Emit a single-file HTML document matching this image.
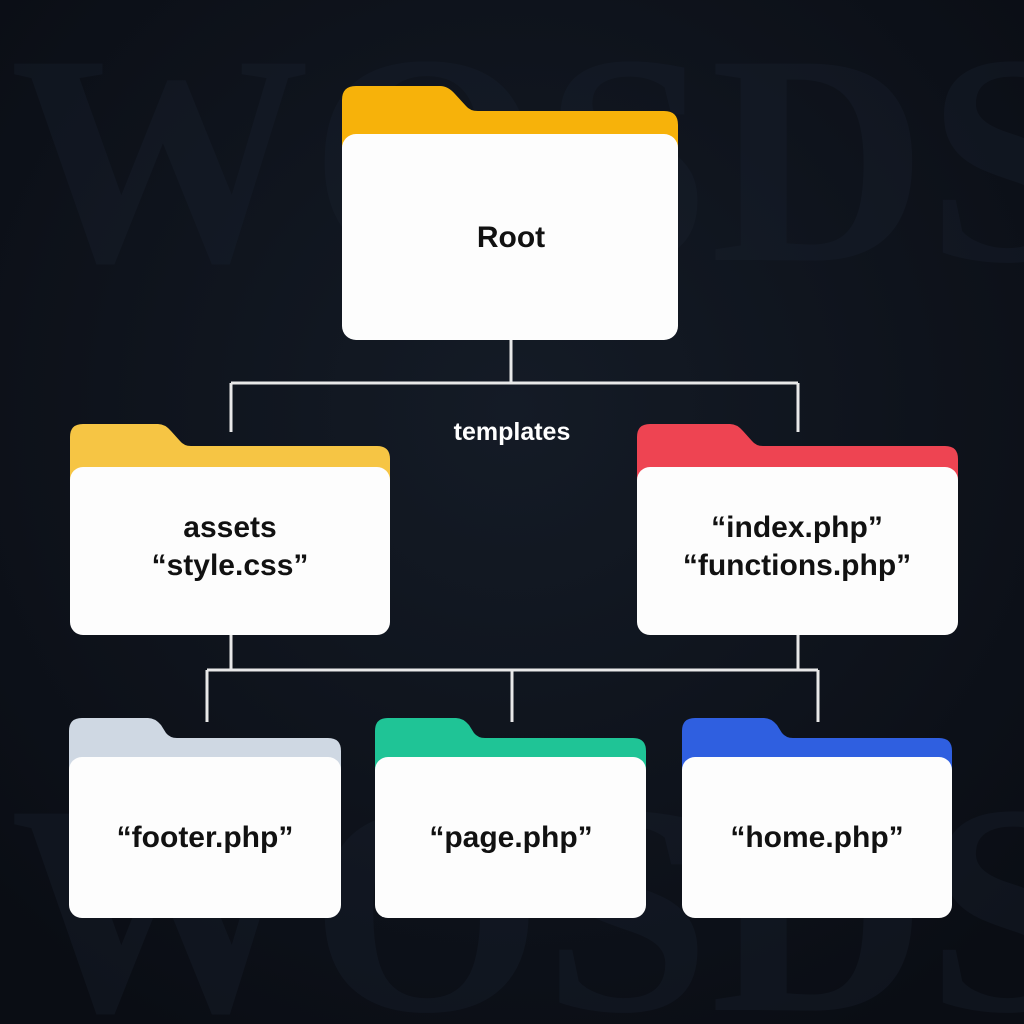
<!DOCTYPE html>
<html><head><meta charset="utf-8"><style>
html,body{margin:0;padding:0;background:#0d1119;}
svg{display:block}
text{font-family:"Liberation Sans","DejaVu Sans",sans-serif;font-weight:bold;}
</style></head><body>
<svg width="1024" height="1024" viewBox="0 0 1024 1024" xmlns="http://www.w3.org/2000/svg">
<defs>
<radialGradient id="bg" cx="50%" cy="40%" r="70%">
<stop offset="0" stop-color="#141b26"/><stop offset="1" stop-color="#0a0d14"/>
</radialGradient>
</defs>
<rect width="1024" height="1024" fill="url(#bg)"/>
<g fill="#1a2230" opacity="0.35" font-size="300">
<text x="10" y="260" style="font-family:'Liberation Serif',serif">WOSDS</text>
<text x="10" y="1010" style="font-family:'Liberation Serif',serif">WOSDS</text>
</g>
<g stroke="#e8e8e8" stroke-width="3" fill="none">
<path d="M511 340V383M231 383H798M231 383V432M798 383V432"/>
<path d="M231 635V670M798 635V670M207 670H818M207 670V722M512 670V722M818 670V722"/>
</g>
<text x="512" y="440" fill="#fff" font-size="25" text-anchor="middle">templates</text>

<path d="M342 100Q342 86 356 86H440Q448 86 455 94L466 106Q470 111 478 111H664Q678 111 678 125V160H342Z" fill="#f7b20a"/>
<rect x="342" y="134" width="336" height="206" rx="14" fill="#fdfdfd"/>
<text x="511" y="247" fill="#111" font-size="30" text-anchor="middle">Root</text>

<path d="M70 437Q70 424 83 424H158Q165 424 171 431L180 441Q184 446 191 446H377Q390 446 390 459V490H70Z" fill="#f6c544"/>
<rect x="70" y="467" width="320" height="168" rx="13" fill="#fdfdfd"/>
<text x="230" y="537" fill="#111" font-size="30" text-anchor="middle">assets</text>
<text x="230" y="575" fill="#111" font-size="30" text-anchor="middle">“style.css”</text>

<path d="M637 437Q637 424 650 424H730Q737 424 743 431L752 441Q756 446 763 446H945Q958 446 958 459V490H637Z" fill="#ee4452"/>
<rect x="637" y="467" width="321" height="168" rx="13" fill="#fdfdfd"/>
<text x="797" y="537" fill="#111" font-size="30" text-anchor="middle">“index.php”</text>
<text x="797" y="575" fill="#111" font-size="30" text-anchor="middle">“functions.php”</text>

<path d="M69 731Q69 718 82 718H148Q155 718 161 725L166 733Q170 738 177 738H328Q341 738 341 751V780H69Z" fill="#cfd8e3"/>
<rect x="69" y="757" width="272" height="161" rx="13" fill="#fdfdfd"/>
<text x="205" y="847" fill="#111" font-size="30" text-anchor="middle">“footer.php”</text>

<path d="M375 731Q375 718 388 718H456Q463 718 469 725L474 733Q478 738 485 738H633Q646 738 646 751V780H375Z" fill="#1fc496"/>
<rect x="375" y="757" width="271" height="161" rx="13" fill="#fdfdfd"/>
<text x="511" y="847" fill="#111" font-size="30" text-anchor="middle">“page.php”</text>

<path d="M682 731Q682 718 695 718H764Q771 718 777 725L782 733Q786 738 793 738H939Q952 738 952 751V780H682Z" fill="#2f5fe0"/>
<rect x="682" y="757" width="270" height="161" rx="13" fill="#fdfdfd"/>
<text x="817" y="847" fill="#111" font-size="30" text-anchor="middle">“home.php”</text>
</svg>
</body></html>
